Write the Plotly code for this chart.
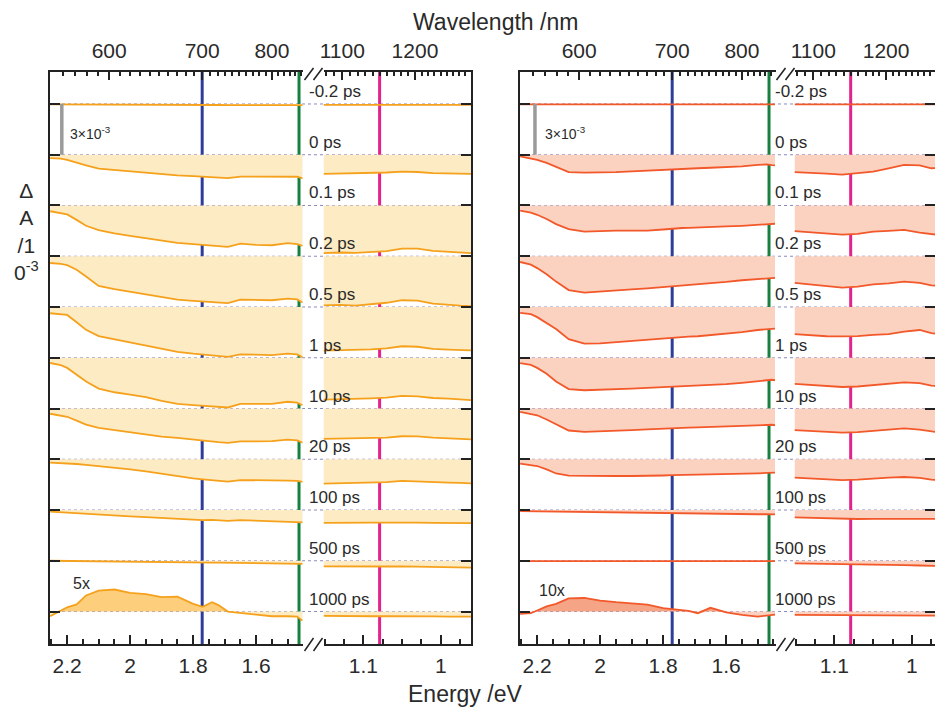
import numpy as np
import plotly.graph_objects as go

# ---------------- data (ΔA in units of 1e-3) ----------------
delays = ["-0.2 ps", "0 ps", "0.1 ps", "0.2 ps", "0.5 ps", "1 ps", "10 ps", "20 ps",
          "100 ps", "500 ps", "1000 ps"]
offset_step = 3.0  # vertical offset between stacked spectra (×10^-3)

energy_vis = [2.254, 2.22, 2.20, 2.17, 2.14, 2.10, 2.05, 2.00, 1.95, 1.90, 1.85, 1.80,
              1.77, 1.74, 1.72, 1.69, 1.65, 1.60, 1.55, 1.50, 1.47, 1.455, 1.445]
energy_nir = [1.1515, 1.13, 1.11, 1.09, 1.07, 1.05, 1.03, 1.01, 0.99, 0.975, 0.9609]

# left panel (orange), visible segment
L_vis_m02 = [-0.02, -0.02, -0.02, -0.03, -0.03, -0.03, -0.03, -0.03, -0.04, -0.04, -0.05, -0.06,
             -0.06, -0.06, -0.06, -0.07, -0.07, -0.07, -0.07, -0.07, -0.07, -0.07, -0.07]
L_vis_0 = [-0.2, -0.23, -0.3, -0.47, -0.63, -0.82, -0.9, -0.98, -1.06, -1.16, -1.22, -1.27,
           -1.3, -1.33, -1.35, -1.38, -1.29, -1.29, -1.29, -1.28, -1.3, -1.38, -1.38]
L_vis_01 = [-0.34, -0.45, -0.53, -0.85, -1.2, -1.45, -1.65, -1.8, -1.95, -2.08, -2.21, -2.28,
            -2.32, -2.38, -2.42, -2.45, -2.25, -2.33, -2.35, -2.22, -2.28, -2.37, -2.37]
L_vis_02 = [-0.4, -0.45, -0.53, -0.8, -1.2, -1.75, -1.95, -2.1, -2.24, -2.42, -2.57, -2.64,
            -2.68, -2.72, -2.75, -2.77, -2.57, -2.6, -2.6, -2.5, -2.55, -2.71, -2.71]
L_vis_05 = [-0.37, -0.42, -0.47, -0.9, -1.35, -1.72, -1.9, -2.08, -2.28, -2.48, -2.65, -2.76,
            -2.8, -2.87, -2.9, -2.95, -2.8, -2.83, -2.84, -2.76, -2.8, -2.95, -2.95]
L_vis_1 = [-0.31, -0.44, -0.6, -0.98, -1.4, -1.82, -2.04, -2.18, -2.33, -2.55, -2.73, -2.8,
           -2.84, -2.88, -2.9, -2.94, -2.73, -2.74, -2.73, -2.6, -2.65, -2.79, -2.79]
L_vis_10 = [-0.31, -0.4, -0.49, -0.72, -0.95, -1.14, -1.28, -1.4, -1.56, -1.66, -1.74, -1.85,
            -1.9, -1.96, -1.99, -2.03, -1.94, -1.94, -1.93, -1.84, -1.88, -2.0, -2.0]
L_vis_20 = [-0.2, -0.22, -0.24, -0.28, -0.33, -0.4, -0.5, -0.6, -0.71, -0.86, -0.99, -1.13,
            -1.19, -1.25, -1.28, -1.32, -1.23, -1.23, -1.24, -1.26, -1.28, -1.35, -1.35]
L_vis_100 = [-0.1, -0.14, -0.17, -0.2, -0.24, -0.3, -0.34, -0.38, -0.42, -0.47, -0.52, -0.57,
             -0.6, -0.58, -0.6, -0.64, -0.6, -0.63, -0.66, -0.69, -0.71, -0.73, -0.73]
L_vis_500 = [0.0, -0.01, -0.01, -0.02, -0.03, -0.04, -0.05, -0.05, -0.06, -0.07, -0.08, -0.09,
             -0.1, -0.11, -0.11, -0.12, -0.13, -0.14, -0.15, -0.16, -0.17, -0.18, -0.18]
L_vis_1000 = [-0.28, 0.05, 0.25, 0.42, 0.95, 1.24, 1.3, 1.1, 1.03, 0.85, 0.88, 0.45,
              0.28, 0.55, 0.38, 0.0, -0.08, -0.2, -0.28, -0.28, -0.3, -0.51, -0.51]  # shown 5x

# left panel, near-IR segment
L_nir_m02 = [-0.05, -0.05, -0.05, -0.04, -0.04, -0.04, -0.04, -0.04, -0.05, -0.05, -0.05]
L_nir_0 = [-1.13, -1.12, -1.1, -1.09, -1.05, -1.0, -1.02, -1.09, -1.1, -1.12, -1.13]
L_nir_01 = [-2.82, -2.78, -2.8, -2.75, -2.7, -2.55, -2.55, -2.68, -2.75, -2.8, -2.82]
L_nir_02 = [-2.9, -2.88, -2.92, -2.85, -2.75, -2.6, -2.62, -2.8, -2.88, -2.92, -2.95]
L_nir_05 = [-2.58, -2.55, -2.56, -2.5, -2.45, -2.32, -2.35, -2.48, -2.52, -2.55, -2.56]
L_nir_1 = [-2.48, -2.46, -2.45, -2.4, -2.36, -2.25, -2.28, -2.38, -2.42, -2.45, -2.5]
L_nir_10 = [-1.79, -1.78, -1.78, -1.75, -1.72, -1.64, -1.65, -1.72, -1.76, -1.8, -1.83]
L_nir_20 = [-1.44, -1.42, -1.42, -1.38, -1.35, -1.28, -1.3, -1.35, -1.38, -1.4, -1.42]
L_nir_100 = [-0.76, -0.77, -0.76, -0.75, -0.74, -0.72, -0.74, -0.76, -0.77, -0.78, -0.78]
L_nir_500 = [-0.33, -0.34, -0.35, -0.35, -0.34, -0.33, -0.35, -0.37, -0.38, -0.39, -0.4]
L_nir_1000 = [-0.26, -0.28, -0.27, -0.28, -0.28, -0.27, -0.28, -0.29, -0.3, -0.3, -0.3]

# right panel (red), visible segment
R_vis_m02 = [-0.02, -0.02, -0.02, -0.02, -0.02, -0.02, -0.02, -0.02, -0.02, -0.02, -0.02, -0.02,
             -0.02, -0.02, -0.02, -0.02, -0.02, -0.02, -0.02, -0.02, -0.02, -0.02, -0.02]
R_vis_0 = [-0.1, -0.2, -0.3, -0.48, -0.7, -1.03, -1.06, -1.05, -1.03, -0.98, -0.93, -0.88,
           -0.84, -0.82, -0.81, -0.8, -0.77, -0.74, -0.69, -0.6, -0.57, -0.62, -0.63]
R_vis_01 = [-0.3, -0.42, -0.55, -0.8, -1.1, -1.4, -1.55, -1.5, -1.48, -1.48, -1.48, -1.42,
            -1.36, -1.33, -1.32, -1.29, -1.27, -1.24, -1.2, -1.15, -1.1, -1.08, -1.08]
R_vis_02 = [-0.34, -0.5, -0.7, -1.07, -1.5, -2.0, -2.15, -2.1, -2.03, -1.96, -1.9, -1.83,
            -1.78, -1.72, -1.69, -1.64, -1.58, -1.52, -1.42, -1.35, -1.3, -1.28, -1.28]
R_vis_05 = [-0.35, -0.42, -0.6, -0.95, -1.3, -1.9, -2.17, -2.15, -2.08, -2.0, -1.91, -1.83,
            -1.79, -1.76, -1.75, -1.73, -1.66, -1.58, -1.48, -1.36, -1.3, -1.28, -1.28]
R_vis_1 = [-0.32, -0.42, -0.6, -0.95, -1.4, -1.85, -1.92, -1.9, -1.86, -1.83, -1.78, -1.74,
           -1.71, -1.68, -1.66, -1.64, -1.6, -1.56, -1.48, -1.38, -1.32, -1.3, -1.33]
R_vis_10 = [-0.2, -0.3, -0.4, -0.65, -0.92, -1.3, -1.38, -1.36, -1.32, -1.28, -1.23, -1.18,
            -1.16, -1.14, -1.13, -1.12, -1.09, -1.06, -1.02, -0.98, -0.95, -0.96, -0.99]
R_vis_20 = [-0.26, -0.34, -0.4, -0.6, -0.84, -0.97, -0.99, -0.99, -0.99, -0.99, -0.99, -0.96,
            -0.94, -0.93, -0.93, -0.93, -0.92, -0.9, -0.86, -0.83, -0.81, -0.8, -0.79]
R_vis_100 = [-0.06, -0.07, -0.08, -0.09, -0.1, -0.12, -0.13, -0.14, -0.16, -0.17, -0.18, -0.19,
             -0.2, -0.2, -0.21, -0.22, -0.23, -0.24, -0.24, -0.25, -0.25, -0.26, -0.26]
R_vis_500 = [-0.02, -0.02, -0.02, -0.02, -0.02, -0.02, -0.02, -0.02, -0.02, -0.02, -0.02, -0.02,
             -0.02, -0.02, -0.02, -0.02, -0.02, -0.02, -0.02, -0.02, -0.02, -0.02, -0.02]
R_vis_1000 = [-0.14, -0.1, 0.06, 0.3, 0.45, 0.78, 0.8, 0.65, 0.55, 0.48, 0.41, 0.2,
              0.14, 0.08, 0.04, -0.1, 0.22, -0.05, -0.2, -0.3, -0.25, -0.2, -0.18]  # shown 10x

# right panel, near-IR segment
R_nir_m02 = [-0.02, -0.02, -0.02, -0.02, -0.02, -0.02, -0.02, -0.02, -0.02, -0.02, -0.02]
R_nir_0 = [-1.03, -1.06, -1.12, -1.17, -1.1, -1.0, -0.8, -0.6, -0.63, -0.8, -0.78]
R_nir_01 = [-1.52, -1.58, -1.67, -1.72, -1.68, -1.55, -1.5, -1.44, -1.6, -1.72, -1.77]
R_nir_02 = [-1.58, -1.66, -1.77, -1.85, -1.8, -1.66, -1.6, -1.5, -1.58, -1.72, -1.77]
R_nir_05 = [-1.6, -1.66, -1.73, -1.74, -1.72, -1.65, -1.6, -1.46, -1.36, -1.55, -1.63]
R_nir_1 = [-1.54, -1.6, -1.68, -1.73, -1.7, -1.62, -1.56, -1.45, -1.5, -1.65, -1.7]
R_nir_10 = [-1.28, -1.33, -1.38, -1.43, -1.4, -1.33, -1.28, -1.18, -1.25, -1.38, -1.44]
R_nir_20 = [-1.09, -1.13, -1.18, -1.23, -1.2, -1.12, -1.08, -1.05, -1.1, -1.2, -1.24]
R_nir_100 = [-0.43, -0.46, -0.5, -0.53, -0.53, -0.52, -0.52, -0.53, -0.53, -0.53, -0.53]
R_nir_500 = [-0.16, -0.17, -0.18, -0.19, -0.2, -0.22, -0.25, -0.26, -0.28, -0.3, -0.31]
R_nir_1000 = [-0.2, -0.2, -0.21, -0.21, -0.22, -0.22, -0.22, -0.23, -0.23, -0.24, -0.24]

# marker lines (eV) and tick labels
marker_blue_eV = 1240 / 700
marker_green_eV = 1.464
marker_pink_eV = 1.079
energy_ticks_vis = [2.2, 2.0, 1.8, 1.6]
energy_ticklabels_vis = ["2.2", "2", "1.8", "1.6"]
energy_ticks_nir = [1.1, 1.0]
energy_ticklabels_nir = ["1.1", "1"]
wl_major_vis = [600, 700, 800]
wl_major_nir = [1100, 1200]

left_vis = [L_vis_m02, L_vis_0, L_vis_01, L_vis_02, L_vis_05, L_vis_1, L_vis_10, L_vis_20, L_vis_100, L_vis_500, L_vis_1000]
left_nir = [L_nir_m02, L_nir_0, L_nir_01, L_nir_02, L_nir_05, L_nir_1, L_nir_10, L_nir_20, L_nir_100, L_nir_500, L_nir_1000]
right_vis = [R_vis_m02, R_vis_0, R_vis_01, R_vis_02, R_vis_05, R_vis_1, R_vis_10, R_vis_20, R_vis_100, R_vis_500, R_vis_1000]
right_nir = [R_nir_m02, R_nir_0, R_nir_01, R_nir_02, R_nir_05, R_nir_1, R_nir_10, R_nir_20, R_nir_100, R_nir_500, R_nir_1000]

# ---------------- geometry ----------------
W, H = 935, 708
def fx(px):
    return px / W
def fy(py):
    return 1 - py / H

YDOM = [fy(644), fy(71.5)]
YR = [-1.92, 31.92]
segs = {
    "A": dict(dom=[fx(50), fx(302.5)], rng=[2.2545, 1.453]),
    "B": dict(dom=[fx(323.5), fx(471)], rng=[1.1515, 0.9609]),
    "C": dict(dom=[fx(520), fx(775.7)], rng=[2.2545, 1.4428]),
    "D": dict(dom=[fx(794.5), 1.0], rng=[1.1515, 0.9702]),
}

ORANGE = "#F5A11C"
ORANGE_FILL = "#FDEBC3"
ORANGE_DARK = "#FDCF7C"
RED = "#F2582A"
RED_FILL = "#FBD2BF"
RED_DARK = "#F5A585"
AXC = "#222222"
TXT = "#2a2a2a"
FONT = "Liberation Sans, Arial, sans-serif"

fig = go.Figure()
n = len(delays)

def add_fills(xa, ya, energies, series, fillc, darkc):
    for k, vals in enumerate(series):
        base = (n - 1 - k) * offset_step
        v = np.array(vals, dtype=float)
        b = np.full(len(v), base)
        for part, col in ((np.minimum(v, 0), fillc), (np.maximum(v, 0), darkc)):
            fig.add_trace(go.Scatter(x=energies, y=b, mode="lines", line=dict(width=0),
                                     xaxis=xa, yaxis=ya, hoverinfo="skip", showlegend=False))
            fig.add_trace(go.Scatter(x=energies, y=b + part, mode="lines", line=dict(width=0),
                                     fill="tonexty", fillcolor=col, xaxis=xa, yaxis=ya,
                                     hoverinfo="skip", showlegend=False))

def add_lines(xa, ya, energies, series, linec):
    for k, vals in enumerate(series):
        base = (n - 1 - k) * offset_step
        v = np.array(vals, dtype=float)
        fig.add_trace(go.Scatter(x=energies, y=base + v, mode="lines",
                                 line=dict(color=linec, width=1.8),
                                 xaxis=xa, yaxis=ya, name=delays[k], showlegend=False))

# subplots: A=(x,y)  B=(x2,y2)  C=(x3,y3)  D=(x4,y4); top wavelength axes x5..x8
add_fills("x", "y", energy_vis, left_vis, ORANGE_FILL, ORANGE_DARK)
add_fills("x2", "y2", energy_nir, left_nir, ORANGE_FILL, ORANGE_DARK)
add_fills("x3", "y3", energy_vis, right_vis, RED_FILL, RED_DARK)
add_fills("x4", "y4", energy_nir, right_nir, RED_FILL, RED_DARK)
add_lines("x", "y", energy_vis, left_vis, ORANGE)
add_lines("x2", "y2", energy_nir, left_nir, ORANGE)
add_lines("x3", "y3", energy_vis, right_vis, RED)
add_lines("x4", "y4", energy_nir, right_nir, RED)

# scale bars (3×10^-3)
top_base = (n - 1) * offset_step
for xa, ya, xe in (("x", "y", 2.217), ("x3", "y3", 2.207)):
    fig.add_trace(go.Scatter(x=[xe, xe], y=[top_base - offset_step, top_base], mode="lines",
                             line=dict(color="#9a9a9a", width=3.5), xaxis=xa, yaxis=ya,
                             hoverinfo="skip", showlegend=False))

# invisible carriers so that the top (wavelength) axes get drawn
for xa, ya, seg in (("x5", "y", "A"), ("x6", "y2", "B"), ("x7", "y3", "C"), ("x8", "y4", "D")):
    fig.add_trace(go.Scatter(x=segs[seg]["rng"], y=[YR[0], YR[0]], mode="lines",
                             line=dict(width=0, color="rgba(0,0,0,0)"), xaxis=xa, yaxis=ya,
                             hoverinfo="skip", showlegend=False))

# ---------------- shapes ----------------
shapes = []
for xa, ya in (("x", "y"), ("x3", "y3")):
    for e, c in ((marker_blue_eV, "#2E3E98"), (marker_green_eV, "#17803F")):
        shapes.append(dict(type="line", xref=xa, yref=ya, x0=e, x1=e, y0=YR[0], y1=YR[1],
                           line=dict(color=c, width=3), layer="below"))
for xa, ya in (("x2", "y2"), ("x4", "y4")):
    shapes.append(dict(type="line", xref=xa, yref=ya, x0=marker_pink_eV, x1=marker_pink_eV,
                       y0=YR[0], y1=YR[1], line=dict(color="#E2238B", width=3), layer="below"))
# dotted baselines across each panel
for ya, x0, x1 in (("y", fx(50), fx(471)), ("y3", fx(520), 1.0)):
    for k in range(n):
        base = (n - 1 - k) * offset_step
        shapes.append(dict(type="line", xref="paper", yref=ya, x0=x0, x1=x1, y0=base, y1=base,
                           line=dict(color="#8a8ac4", width=1, dash="dot"), layer="below"))
# axis-break marks
for xs in (304.5, 776.5):
    for dx in (0, 9):
        for (ya, yb) in ((651, 638), (80, 68)):
            shapes.append(dict(type="line", xref="paper", yref="paper",
                               x0=fx(xs + dx), x1=fx(xs + dx + 9), y0=fy(ya), y1=fy(yb),
                               line=dict(color=AXC, width=1.5)))

# ---------------- annotations ----------------
ann = []
ann.append(dict(text="Wavelength /nm", x=fx(495), y=fy(22), xref="paper", yref="paper",
                showarrow=False, font=dict(size=23, color=TXT), xanchor="center", yanchor="middle"))
ann.append(dict(text="Energy /eV", x=fx(465), y=fy(694), xref="paper", yref="paper",
                showarrow=False, font=dict(size=23, color=TXT), xanchor="center", yanchor="middle"))
ann.append(dict(text="Δ<br>A<br>/1<br>0<sup>-3</sup>", x=fx(26), y=fy(232), xref="paper", yref="paper",
                showarrow=False, font=dict(size=21, color=TXT), xanchor="center", yanchor="middle"))
for ya, xl in (("y", fx(307)), ("y3", fx(773))):
    for k, lab in enumerate(delays):
        base = (n - 1 - k) * offset_step
        ann.append(dict(text=lab, x=xl, y=base, xref="paper", yref=ya, showarrow=False,
                        font=dict(size=17, color=TXT), xanchor="left", yanchor="bottom", yshift=1))
ann.append(dict(text="5x", x=2.156, y=1.63, xref="x", yref="y", showarrow=False,
                font=dict(size=16, color=TXT)))
ann.append(dict(text="10x", x=2.153, y=1.27, xref="x3", yref="y3", showarrow=False,
                font=dict(size=16, color=TXT)))
for xa, ya, xe in (("x", "y", 2.197), ("x3", "y3", 2.181)):
    ann.append(dict(text="3×10<sup>-3</sup>", x=xe, y=28.3, xref=xa, yref=ya, showarrow=False,
                    font=dict(size=14, color=TXT), xanchor="left", yanchor="middle"))

# ---------------- axes ----------------
def bottom_axis(seg, anchor, ticks, labels, minor_dt):
    lo, hi = min(segs[seg]["rng"]), max(segs[seg]["rng"])
    minor_vals = [round(v, 4) for v in np.arange(0.9, 2.3, minor_dt) if lo <= v <= hi and
                  all(abs(v - t) > 1e-6 for t in ticks)]
    return dict(anchor=anchor, side="bottom", domain=segs[seg]["dom"], range=segs[seg]["rng"],
                showline=True, linecolor=AXC,
                linewidth=1.5, ticks="inside", ticklen=9, tickwidth=1.5, tickcolor=AXC,
                tickmode="array", tickvals=ticks, ticktext=labels, showgrid=False, zeroline=False,
                tickfont=dict(size=21, color=TXT), ticklabelstandoff=2, automargin=False,
                minor=dict(tickmode="array", tickvals=minor_vals, ticks="inside", ticklen=5,
                           tickwidth=1.5, tickcolor=AXC, showgrid=False))

def top_axis(seg, anchor, majors, wl_lo, wl_hi):
    minor_wl = [w for w in range(wl_lo, wl_hi + 1, 10) if w not in majors]
    return dict(anchor=anchor, side="top", domain=segs[seg]["dom"],
                range=segs[seg]["rng"], showline=True, linecolor=AXC, linewidth=1.5,
                ticks="inside", ticklen=9, tickwidth=1.5, tickcolor=AXC, tickmode="array",
                tickvals=[1240 / w for w in majors], ticktext=[str(w) for w in majors],
                showgrid=False, zeroline=False, tickfont=dict(size=21, color=TXT),
                ticklabelstandoff=3, automargin=False,
                minor=dict(tickmode="array", tickvals=[1240 / w for w in minor_wl], ticks="inside",
                           ticklen=5, tickwidth=1.5, tickcolor=AXC, showgrid=False))

ytick_vals = [k * offset_step for k in range(n)]
def y_axis(**kw):
    d = dict(domain=YDOM, range=YR, showline=True, linecolor=AXC, linewidth=1.5, ticks="inside",
             ticklen=10, tickwidth=1.5, tickcolor=AXC, tickmode="array", tickvals=ytick_vals,
             showticklabels=False, showgrid=False, zeroline=False, automargin=False)
    d.update(kw)
    return d

fig.update_layout(
    width=W, height=H, margin=dict(l=0, r=0, t=0, b=0, pad=0, autoexpand=False),
    paper_bgcolor="white", plot_bgcolor="rgba(0,0,0,0)",
    font=dict(family=FONT, color=TXT),
    showlegend=False,
    xaxis=bottom_axis("A", "y", energy_ticks_vis, energy_ticklabels_vis, 0.05),
    xaxis2=bottom_axis("B", "y2", energy_ticks_nir, energy_ticklabels_nir, 0.025),
    xaxis3=bottom_axis("C", "y3", energy_ticks_vis, energy_ticklabels_vis, 0.05),
    xaxis4=bottom_axis("D", "y4", energy_ticks_nir, energy_ticklabels_nir, 0.025),
    xaxis5=top_axis("A", "y", wl_major_vis, 550, 850),
    xaxis6=top_axis("B", "y2", wl_major_nir, 1080, 1290),
    xaxis7=top_axis("C", "y3", wl_major_vis, 550, 850),
    xaxis8=top_axis("D", "y4", wl_major_nir, 1080, 1290),
    yaxis=y_axis(anchor="x", side="left"),
    yaxis2=y_axis(anchor="x2", side="right"),
    yaxis3=y_axis(anchor="x3", side="left"),
    yaxis4=y_axis(anchor="x4", side="right", showline=False),
    shapes=shapes,
    annotations=ann,
)

fig.write_html("out.html", config={"displayModeBar": False},
               post_script="document.body.style.margin='0px';document.body.style.overflow='hidden';")
